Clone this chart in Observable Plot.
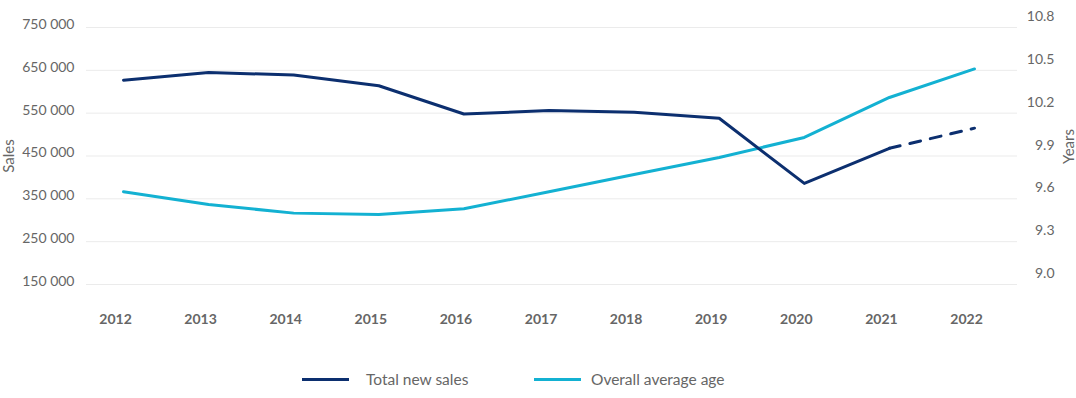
<!DOCTYPE html>
<html>
<head>
<meta charset="utf-8">
<script src="https://cdn.jsdelivr.net/npm/d3@7"></script>
<script src="https://cdn.jsdelivr.net/npm/@observablehq/plot@0.6"></script>
<style>
  html, body { margin: 0; padding: 0; background: #fff; }
  body { width: 1076px; height: 398px; overflow: hidden; font-family: Lato, "Open Sans", sans-serif; }
  #legend { position: relative; height: 48px; font-size: 15.5px; color: #666; }
  .item { position: absolute; top: 20px; display: flex; align-items: center; }
  .sw { width: 47px; height: 3px; }
</style>
</head>
<body>
<div id="chart"></div>
<div id="legend"></div>
<script>
const years = [2012, 2013, 2014, 2015, 2016, 2017, 2018, 2019, 2020, 2021, 2022];
const totalNewSales = [627000, 645000, 639000, 614000, 548000, 556000, 552000, 538000, 386000, 468000, 515000];
const averageAge = [9.58, 9.49, 9.43, 9.42, 9.46, 9.58, 9.70, 9.82, 9.96, 10.24, 10.44];
const salesTicks = [150000, 250000, 350000, 450000, 550000, 650000, 750000];
const ageTicks = [9.0, 9.3, 9.6, 9.9, 10.2, 10.5, 10.8];
const seriesNames = ["Total new sales", "Overall average age"];
const colors = ["#0c2f6f", "#13b1d2"];

// map the right (age) axis onto the left (sales) scale
const ageToSales = a => 173300 + (a - 9.0) / 0.3 * 100000;

const rows = years.map((y, i) => ({year: y, sales: totalNewSales[i], age: ageToSales(averageAge[i])}));
const solid = rows.filter(d => d.year <= 2021);
const forecast = rows.filter(d => d.year >= 2021);
const fmt = v => d3.format(",")(v).replace(/,/g, " ");
const grey = "#666";

const plot = Plot.plot({
  width: 1076,
  height: 350,
  marginLeft: 86,
  marginRight: 59,
  marginTop: 0,
  marginBottom: 45,
  style: {fontFamily: "Lato, 'Open Sans', sans-serif", fontSize: "14px", color: grey, background: "#fff"},
  x: {domain: [2012, 2022], range: [123, 974]},
  y: {domain: [150000, 750000], range: [284, 27]},
  marks: [
    Plot.ruleY(salesTicks, {stroke: "#ebebeb", strokeWidth: 1}),
    Plot.axisY({ticks: salesTicks, tickFormat: fmt, tickSize: 0, tickPadding: 12, dy: -3, label: null, fill: grey, fontSize: 14}),
    Plot.text(ageTicks, {y: d => ageToSales(d), text: d => d.toFixed(1), frameAnchor: "right", dx: 37, dy: -1, textAnchor: "end", fill: grey, fontSize: 14}),
    Plot.axisX({ticks: years, tickFormat: d => String(d), tickSize: 0, tickPadding: 9, dx: -8, label: null, fill: grey, fontSize: 14, fontWeight: "bold"}),
    Plot.text(["Sales"], {text: d => d, frameAnchor: "left", textAnchor: "middle", y: 450000, dx: -77, rotate: -90, fill: grey, fontSize: 15}),
    Plot.text(["Years"], {text: d => d, frameAnchor: "right", textAnchor: "middle", y: 472000, dx: 52, rotate: -90, fill: grey, fontSize: 15}),
    Plot.line(rows, {x: "year", y: "age", stroke: colors[1], strokeWidth: 3}),
    Plot.line(solid, {x: "year", y: "sales", stroke: colors[0], strokeWidth: 3}),
    Plot.line(forecast, {x: "year", y: "sales", stroke: colors[0], strokeWidth: 3, strokeDasharray: "11,10"})
  ]
});
document.getElementById("chart").appendChild(plot);

const legend = document.getElementById("legend");
const lefts = [302, 534];
const gaps = [17, 10];
seriesNames.forEach((name, i) => {
  const item = document.createElement("div");
  item.className = "item";
  item.style.left = lefts[i] + "px";
  const sw = document.createElement("div");
  sw.className = "sw";
  sw.style.background = colors[i];
  sw.style.marginRight = gaps[i] + "px";
  const label = document.createElement("span");
  label.textContent = name;
  item.appendChild(sw);
  item.appendChild(label);
  legend.appendChild(item);
});
</script>
</body>
</html>
